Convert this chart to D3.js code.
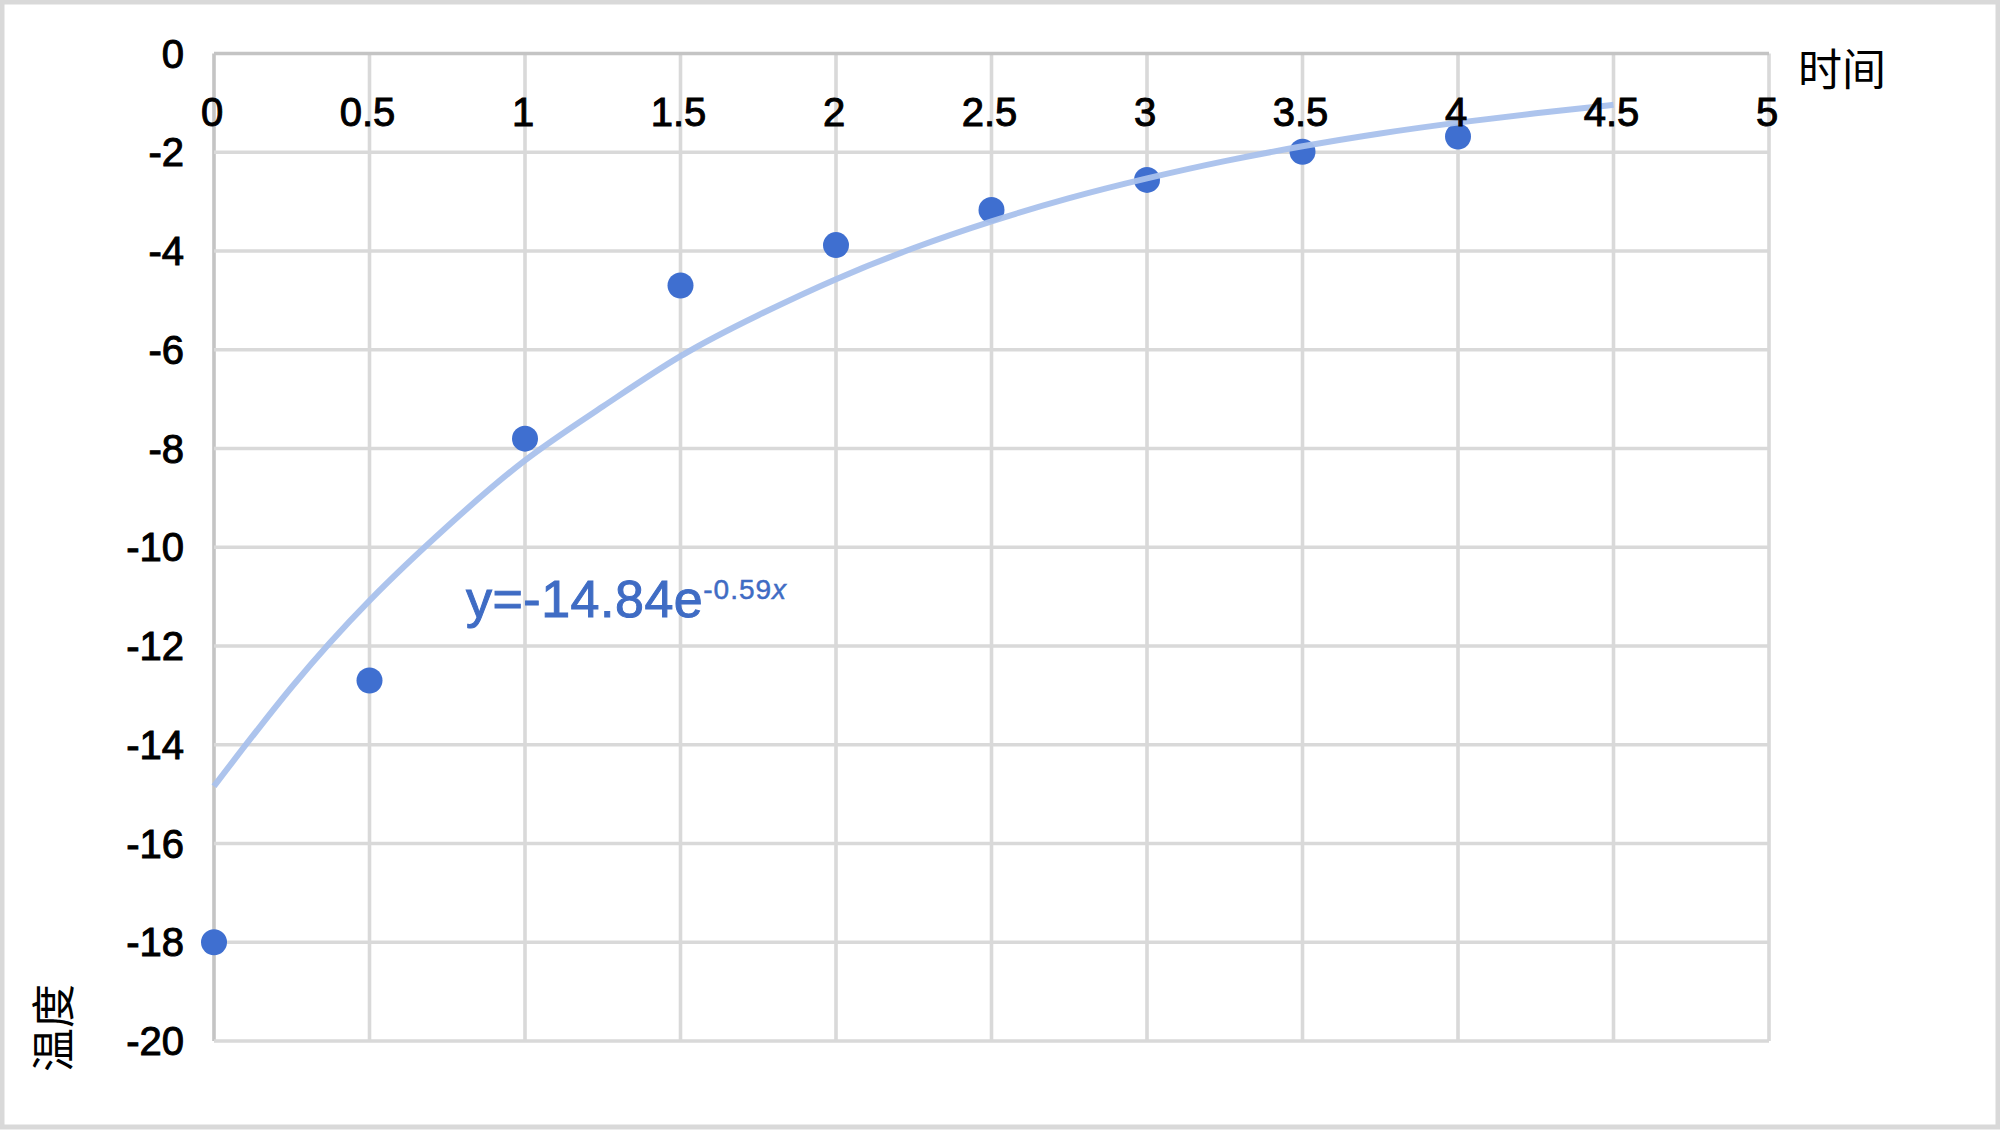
<!DOCTYPE html>
<html>
<head>
<meta charset="utf-8">
<script src="https://cdn.jsdelivr.net/npm/d3@7"></script>
<style>
  html, body { margin: 0; padding: 0; background: #fff; }
  svg { display: block; }
  text { font-family: "Liberation Sans", Arial, Helvetica, sans-serif; }
</style>
</head>
<body>
<svg id="chart" width="2000" height="1131"></svg>
<script>
// ---- data ----
const timeValues = [0, 0.5, 1, 1.5, 2, 2.5, 3, 3.5, 4];
const tempValues = [-18, -12.7, -7.8, -4.7, -3.88, -3.17, -2.56, -1.99, -1.68];
// trendline samples (y = -14.84e^(-0.59x))
const trendX = [0, 0.25, 0.5, 0.75, 1, 1.25, 1.5, 1.75, 2, 2.25, 2.5, 2.75, 3, 3.25, 3.5, 3.75, 4, 4.25, 4.5];
const trendY = [-14.84, -12.83, -11.08, -9.58, -8.24, -7.15, -6.13, -5.30, -4.57, -3.94, -3.40, -2.93, -2.53, -2.18, -1.88, -1.62, -1.40, -1.21, -1.04];
const xTicks = [0, 0.5, 1, 1.5, 2, 2.5, 3, 3.5, 4, 4.5, 5];
const yTicks = [0, -2, -4, -6, -8, -10, -12, -14, -16, -18, -20];
const xTitle = "时间";
const yTitle = "温度";
const equationMain = "y=-14.84e";
const equationExp = "-0.59";
const equationVar = "x";

// ---- layout ----
const W = 2000, H = 1131;
const plotLeft = 214, plotRight = 1769, plotTop = 53.5, plotBottom = 1041;

const svg = d3.select("#chart");

svg.append("rect").attr("x", 0).attr("y", 0).attr("width", W).attr("height", H).attr("fill", "#fff");
svg.append("rect").attr("x", 2).attr("y", 2).attr("width", W - 4).attr("height", H - 6)
  .attr("fill", "none").attr("stroke", "#d9d9d9").attr("stroke-width", 5);

const x = d3.scaleLinear().domain([0, 5]).range([plotLeft, plotRight]);
const y = d3.scaleLinear().domain([-20, 0]).range([plotBottom, plotTop]);

// gridlines
const grid = svg.append("g");
grid.selectAll("line.v").data(xTicks).enter().append("line")
  .attr("x1", d => x(d)).attr("x2", d => x(d))
  .attr("y1", plotTop).attr("y2", plotBottom)
  .attr("stroke", d => d === 0 ? "#c4c4c4" : "#d9d9d9").attr("stroke-width", 3.6);
grid.selectAll("line.h").data(yTicks).enter().append("line")
  .attr("y1", d => y(d)).attr("y2", d => y(d))
  .attr("x1", plotLeft).attr("x2", plotRight)
  .attr("stroke", d => d === 0 ? "#c4c4c4" : "#d9d9d9").attr("stroke-width", 3.6);

// points
svg.append("g").selectAll("circle").data(timeValues).enter().append("circle")
  .attr("cx", d => x(d)).attr("cy", (d, i) => y(tempValues[i]))
  .attr("r", 13).attr("fill", "#3f6fd0");

// trendline
const line = d3.line().x(d => x(d[0])).y(d => y(d[1])).curve(d3.curveNatural);
svg.append("path").datum(trendX.map((d, i) => [d, trendY[i]]))
  .attr("d", line).attr("fill", "none").attr("stroke", "#a9c1ec")
  .attr("stroke-width", 6).attr("stroke-opacity", 0.95);

// x tick labels (top)
svg.append("g").selectAll("text").data(xTicks).enter().append("text")
  .attr("x", d => x(d) - 2).attr("y", 112)
  .attr("text-anchor", "middle").attr("dominant-baseline", "central")
  .attr("font-size", 40).attr("fill", "#000")
  .attr("stroke", "#000").attr("stroke-width", 1)
  .text(d => d3.format("")(d));

// y tick labels
svg.append("g").selectAll("text").data(yTicks).enter().append("text")
  .attr("x", 184).attr("y", d => y(d))
  .attr("text-anchor", "end").attr("dominant-baseline", "central")
  .attr("font-size", 40).attr("fill", "#000")
  .attr("stroke", "#000").attr("stroke-width", 1)
  .text(d => d);

// axis titles
svg.append("text").attr("x", 1798).attr("y", 67)
  .attr("dominant-baseline", "central")
  .attr("font-size", 44).attr("fill", "#000").style("font-family", "'Noto Sans CJK SC', sans-serif")
  .text(xTitle);

svg.append("text").attr("transform", "translate(51,1028) rotate(-90)")
  .attr("text-anchor", "middle").attr("dominant-baseline", "central")
  .attr("font-size", 44).attr("fill", "#000").style("font-family", "'Noto Sans CJK SC', sans-serif")
  .text(yTitle);

// equation label
const eq = svg.append("text").attr("x", 466).attr("y", 617).attr("fill", "#3f6cc4")
  .attr("stroke", "#3f6cc4").attr("stroke-width", 1);
eq.append("tspan").attr("font-size", 52).attr("letter-spacing", 0.5).text(equationMain);
eq.append("tspan").attr("font-size", 28).attr("dy", -18).attr("letter-spacing", 1).attr("stroke-width", 0.5).text(equationExp);
eq.append("tspan").attr("font-size", 28).attr("font-style", "italic").attr("stroke-width", 0.5).text(equationVar);
</script>
</body>
</html>
